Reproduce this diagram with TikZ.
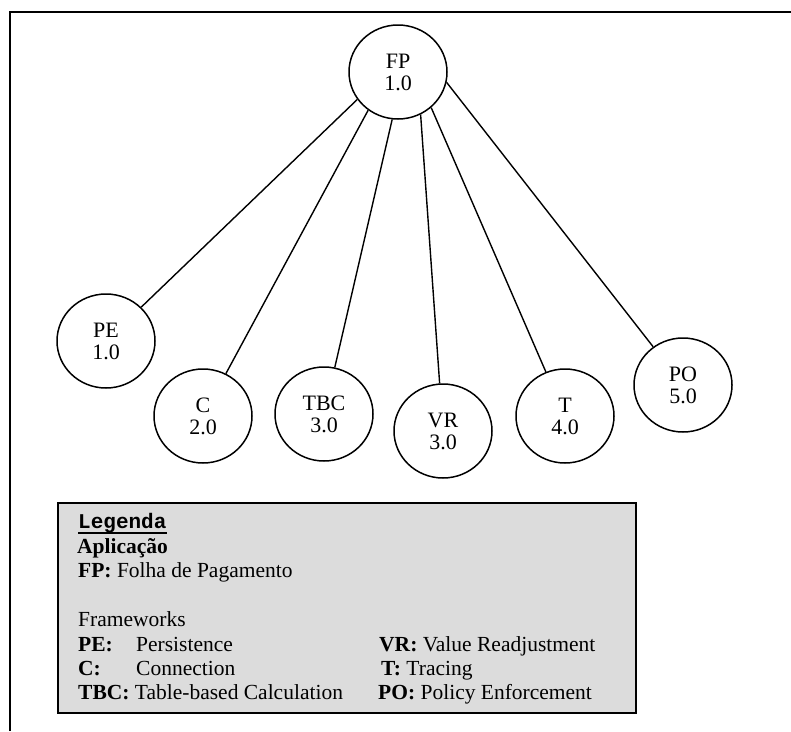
\documentclass[tikz,border=0pt]{standalone}
\usepackage{fontspec}
\setmainfont{Liberation Serif}
\newfontfamily\legmono{Liberation Mono}
\usetikzlibrary{shapes.geometric}
\definecolor{leggray}{RGB}{220,220,220}
\begin{document}
\begin{tikzpicture}[x=1pt,y=-1pt,
  fw/.style={draw, line width=1.5pt, ellipse, minimum width=98pt, minimum height=94pt,
    inner sep=0pt, align=center, font=\fontsize{22}{22}\selectfont},
  conn/.style={line width=1.4pt},
  leg/.style={anchor=base west, inner sep=0pt, font=\fontsize{21.5}{24}\selectfont}]
\useasboundingbox (0,0) rectangle (791,731);
% outer frame (cropped)
\draw[line width=1.6pt] (10,731) -- (10,12) -- (791,12);
% nodes
\node[fw] (FP)  at (398,72) {FP\\1.0};
\node[fw] (PE)  at (106,341) {PE\\1.0};
\node[fw] (C)   at (203,416) {C\\2.0};
\node[fw] (TBC) at (324,414) {TBC\\3.0};
\node[fw] (VR)  at (443,431) {VR\\3.0};
\node[fw] (T)   at (565,416) {T\\4.0};
\node[fw] (PO)  at (683,385) {PO\\5.0};
% connectors
\draw[conn] (FP.-146) -- (PE);
\draw[conn] (FP.-128) -- (C);
\draw[conn] (FP.-97)  -- (TBC);
\draw[conn] (FP.-62)  -- (VR);
\draw[conn] (FP.-47)  -- (T);
\draw[conn] (FP.-12)  -- (PO);
% legend box
\draw[fill=leggray, line width=1.5pt] (58,503) rectangle (636,713);
\node[leg, font=\fontsize{21}{24}\legmono\bfseries] (legt) at (78,528) {Legenda};
\draw[line width=2.4pt] ([yshift=-5pt]legt.base west) -- ([yshift=-5pt]legt.base east);
\node[leg] (lapp) at (77,553) {\textbf{Aplicação}};
\node[leg] (lfp)  at (78,577) {\textbf{FP:} Folha de Pagamento};
\node[leg] (lfw)  at (78,626) {Frameworks};
\node[leg] (lpe)  at (78,651) {\textbf{PE:}};
\node[leg] (lpet) at (136,651) {Persistence};
\node[leg] (lc)   at (78,675) {\textbf{C:}};
\node[leg] (lct)  at (136,675) {Connection};
\node[leg] (ltbc) at (78,699) {\textbf{TBC:} Table-based Calculation};
\node[leg] (lvr)  at (379,651) {\textbf{VR:} Value Readjustment};
\node[leg] (lt)   at (381,675) {\textbf{T:} Tracing};
\node[leg] (lpo)  at (378,699) {\textbf{PO:} Policy Enforcement};
\end{tikzpicture}
\end{document}
